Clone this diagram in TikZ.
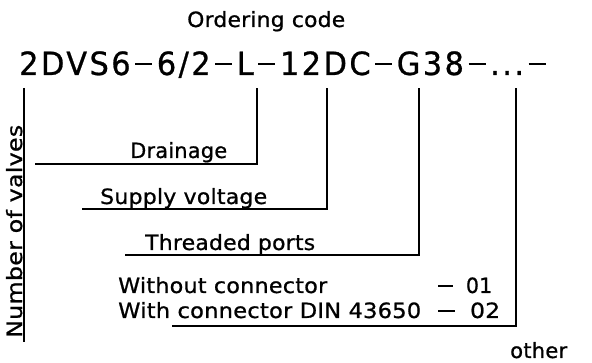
\documentclass[tikz,border=0pt]{standalone}
\usepackage{fontspec}
\setmainfont{DejaVu Sans}
\newfontfamily\cadfont[LetterSpace=1,FakeBold=0.8]{DejaVu Sans}
\newfontfamily\cadbig[LetterSpace=8,FakeBold=0.8]{DejaVu Sans}
\newcommand\fitw[2]{\resizebox{#1}{\height}{#2}}
\newcommand\dsh[2]{\kern0.15em\rule[0.3em]{#1}{#2}\kern0.15em}
\begin{document}
\begin{tikzpicture}[x=1pt,y=-1pt,
  txt/.style={inner sep=0pt, anchor=base west, font=\cadfont\fontsize{21}{24}\selectfont},
  big/.style={txt, font=\cadbig\fontsize{32}{36}\selectfont},
  lead/.style={line width=1.2pt, line cap=butt}]
\useasboundingbox (0,0) rectangle (592,363);
% texts
\node[txt] (ord) at (187,27) {\fitw{158pt}{Ordering code}};
\node[big] (code) at (19,75) {\fitw{531pt}{2DVS6\dsh{0.56em}{0.08em}6/2\dsh{0.56em}{0.08em}L\dsh{0.56em}{0.08em}12DC\dsh{0.56em}{0.08em}G38\dsh{0.56em}{0.08em}...\dsh{0.56em}{0.08em}}};
\node[txt] (drain) at (130,158) {\fitw{97pt}{Drainage}};
\node[txt] (supply) at (100,204) {\fitw{167pt}{Supply voltage}};
\node[txt] (thread) at (145,250) {\fitw{170pt}{Threaded ports}};
\node[txt] (wo) at (118,293) {\fitw{209pt}{Without connector}};
\node[txt] (wo1) at (438,293) {\fitw{54pt}{\rule[0.3em]{0.7em}{0.09em}\ \ 01}};
\node[txt] (wi) at (118,318) {\fitw{303pt}{With connector DIN 43650}};
\node[txt] (wi2) at (438,318) {\fitw{62pt}{\rule[0.3em]{0.7em}{0.09em}\ \ 02}};
\node[txt] (oth) at (510,358) {\fitw{57pt}{other}};
\node[txt, rotate=90] (nov) at (22,338) {\fitw{213pt}{Number of valves}};
% leader coordinates
\coordinate (n0) at (24,88);  \coordinate (n1) at (24,342);
\coordinate (d0) at (35,164); \coordinate (d1) at (257,164); \coordinate (d2) at (257,88);
\coordinate (s0) at (82,209); \coordinate (s1) at (327,209); \coordinate (s2) at (327,88);
\coordinate (t0) at (125,255); \coordinate (t1) at (419,255); \coordinate (t2) at (419,88);
\coordinate (c0) at (172,326); \coordinate (c1) at (516,326); \coordinate (c2) at (516,88);
% leaders
\draw[lead] (n0) -- (n1);
\draw[lead] (d0) -- (d1) -- (d2);
\draw[lead] (s0) -- (s1) -- (s2);
\draw[lead] (t0) -- (t1) -- (t2);
\draw[lead] (c0) -- (c1) -- (c2);
\end{tikzpicture}
\end{document}
